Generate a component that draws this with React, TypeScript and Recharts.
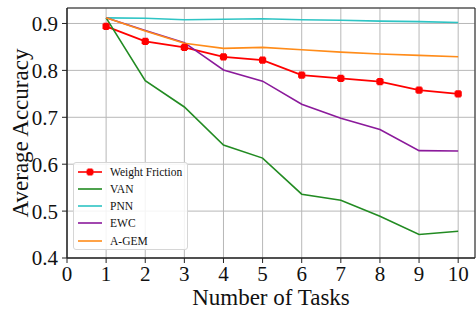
import React from 'react';
import { LineChart, Line, XAxis, YAxis, CartesianGrid, ReferenceArea, Legend } from 'recharts';

const tasks = [1, 2, 3, 4, 5, 6, 7, 8, 9, 10];
const weightFriction = [0.894, 0.862, 0.849, 0.829, 0.822, 0.790, 0.783, 0.776, 0.758, 0.750];
const van = [0.912, 0.778, 0.722, 0.641, 0.613, 0.536, 0.523, 0.489, 0.450, 0.457];
const pnn = [0.912, 0.911, 0.908, 0.909, 0.910, 0.908, 0.907, 0.905, 0.904, 0.902];
const ewc = [0.912, 0.885, 0.859, 0.801, 0.777, 0.728, 0.698, 0.674, 0.629, 0.628];
const agem = [0.912, 0.884, 0.858, 0.847, 0.849, 0.844, 0.839, 0.835, 0.832, 0.829];
const xTicks = [0, 1, 2, 3, 4, 5, 6, 7, 8, 9, 10];
const yTicks = [0.4, 0.5, 0.6, 0.7, 0.8, 0.9];

const series = [
  { key: 'wf', name: 'Weight Friction', color: '#ff0000', values: weightFriction, marker: true },
  { key: 'van', name: 'VAN', color: '#228b22', values: van, marker: false },
  { key: 'pnn', name: 'PNN', color: '#2ec4c4', values: pnn, marker: false },
  { key: 'ewc', name: 'EWC', color: '#8b1a9b', values: ewc, marker: false },
  { key: 'agem', name: 'A-GEM', color: '#ff8c1a', values: agem, marker: false },
];

const data = tasks.map((t, i) => {
  const row: any = { task: t };
  series.forEach((s) => { row[s.key] = s.values[i]; });
  return row;
});

const FONT = '"Liberation Serif", "Times New Roman", serif';

const plusPath = (cx: number, cy: number, r: number, w: number) =>
  `M${cx - w},${cy - r}L${cx + w},${cy - r}L${cx + w},${cy - w}L${cx + r},${cy - w}L${cx + r},${cy + w}L${cx + w},${cy + w}L${cx + w},${cy + r}L${cx - w},${cy + r}L${cx - w},${cy + w}L${cx - r},${cy + w}L${cx - r},${cy - w}L${cx - w},${cy - w}Z`;

const renderMarker = (props: any) => {
  const { cx, cy, index } = props;
  if (cx == null || cy == null) return <g key={`m${index}`} />;
  return <path key={`m${index}`} d={plusPath(cx, cy, 3.6, 2.6)} fill="#ff0000" />;
};

const LegendContent = () => (
  <div
    style={{
      position: 'absolute',
      left: 73,
      top: 162,
      width: 115,
      height: 88,
      background: 'rgba(255,255,255,0.85)',
      border: '1px solid #d6d6d6',
      borderRadius: 3,
      boxSizing: 'border-box',
      fontFamily: FONT,
      fontSize: 11.5,
      color: '#111',
    }}
  >
    {series.map((s, i) => (
      <div key={s.key} style={{ position: 'absolute', left: 3, top: 0 + i * 17.3, height: 17, display: 'flex', alignItems: 'center' }}>
        <svg width={26} height={10} style={{ display: 'block' }}>
          <line x1={1} y1={5} x2={25} y2={5} stroke={s.color} strokeWidth={1.6} />
          {s.marker ? <path d={plusPath(13, 5, 3.4, 2.4)} fill={s.color} /> : null}
        </svg>
        <span style={{ marginLeft: 7, whiteSpace: 'nowrap' }}>{s.name}</span>
      </div>
    ))}
  </div>
);

export default function App() {
  return (
    <div style={{ position: 'absolute', left: 0, top: 0, width: 476, height: 309, background: '#fff' }}>
      <LineChart width={476} height={309} data={data} margin={{ top: 8, right: 1, bottom: 0, left: 0 }}>
        <CartesianGrid stroke="#b8b8b8" strokeWidth={1} />
        <XAxis
          dataKey="task"
          type="number"
          domain={[0, 10.43]}
          ticks={xTicks}
          allowDataOverflow
          height={51}
          tickSize={5}
          tickLine={{ stroke: '#222' }}
          axisLine={{ stroke: '#222' }}
          tick={{ fontFamily: FONT, fontSize: 21, fill: '#111' }}
          tickMargin={3}
          label={{ value: 'Number of Tasks', position: 'insideBottom', offset: 4, style: { fontFamily: FONT, fontSize: 23, fill: '#111' } }}
        />
        <YAxis
          type="number"
          domain={[0.4, 0.933]}
          ticks={yTicks}
          allowDataOverflow
          width={67}
          tickSize={5}
          tickLine={{ stroke: '#222' }}
          axisLine={{ stroke: '#222' }}
          tick={{ fontFamily: FONT, fontSize: 21, fill: '#111' }}
          tickFormatter={(v: number) => v.toFixed(1)}
          tickMargin={4}
          label={{ value: 'Average Accuracy', angle: -90, position: 'insideLeft', offset: 0, dx: 20, style: { fontFamily: FONT, fontSize: 23, fill: '#111', textAnchor: 'middle' } }}
        />
        <ReferenceArea x1={0} x2={10.43} y1={0.4} y2={0.933} fill="none" stroke="#222" strokeWidth={1} ifOverflow="visible" />
        {series.map((s) => (
          <Line
            key={s.key}
            dataKey={s.key}
            name={s.name}
            stroke={s.color}
            strokeWidth={s.marker ? 1.8 : 1.6}
            dot={s.marker ? renderMarker : false}
            activeDot={false}
            isAnimationActive={false}
            type="linear"
          />
        ))}
        <Legend content={<LegendContent />} wrapperStyle={{ position: 'absolute', left: 0, top: 0, width: 0, height: 0 }} />
      </LineChart>
    </div>
  );
}
